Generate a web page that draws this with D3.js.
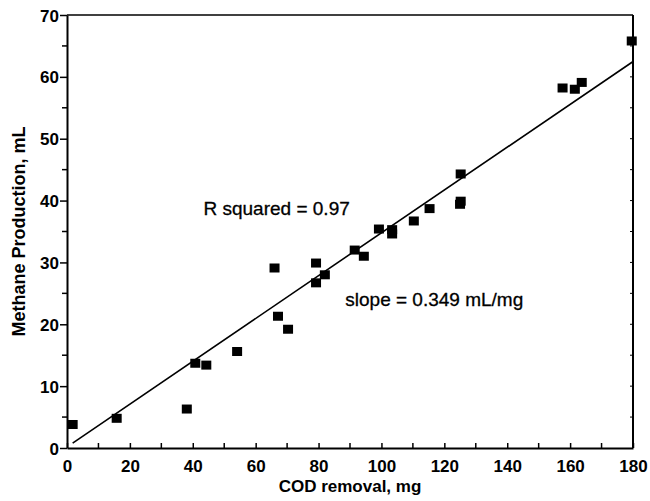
<!DOCTYPE html>
<html>
<head>
    <meta charset="UTF-8">
    <title>Methane vs COD</title>
    <style>
        body { margin: 0; background-color: #FFFFFF; }
        svg { background-color: #FFFFFF; font-family: "Liberation Sans", Arial, sans-serif; }
        .axis path, .axis line { stroke: #000; }
        .axis text { font-size: 17px; font-weight: bold; fill: #000; }
    </style>
</head>
<body>
    <div id="graph-container"></div>
    <script src="https://cdn.jsdelivr.net/npm/d3@7"></script>
    <script>
        // COD removal (mg) vs methane (mL)
        let codRemoval = [1.8, 15.8, 38.1, 40.8, 44.3, 54.1, 66.0, 67.1, 70.3, 79.2, 79.2, 82.0,
                          91.5, 94.4, 99.2, 103.4, 103.4, 110.3, 115.3, 125.0, 125.2, 125.2,
                          157.6, 161.5, 163.7, 179.6];
        let methane = [3.8, 4.8, 6.3, 13.7, 13.4, 15.6, 29.1, 21.3, 19.2, 29.9, 26.7, 28.0,
                       32.0, 31.0, 35.4, 35.3, 34.6, 36.7, 38.7, 39.4, 39.9, 44.3,
                       58.2, 58.0, 59.1, 65.8];
        // regression line end points
        let fitX = [1.8, 179.8];
        let fitY = [0.8, 62.4];
        let xTicks = [0, 20, 40, 60, 80, 100, 120, 140, 160, 180];
        let yTicks = [0, 10, 20, 30, 40, 50, 60, 70];
        let labels = ["R squared = 0.97", "slope = 0.349 mL/mg"];

        let margin = { top: 15, right: 17, bottom: 53, left: 67 },
            width = 650 - margin.left - margin.right,
            height = 501 - margin.top - margin.bottom;

        let x = d3.scaleLinear().domain([0, 180]).range([0, width]);
        let y = d3.scaleLinear().domain([0, 70]).range([height, 0]);

        let svg = d3.select("#graph-container").append("svg")
            .attr("width", 650)
            .attr("height", 501)
            .append("g")
            .attr("transform", "translate(" + margin.left + "," + margin.top + ")");

        // frame
        svg.append("line").attr("x1", 0).attr("x2", width).attr("y1", 0).attr("y2", 0)
            .attr("stroke", "#000").attr("stroke-width", 1.5);
        svg.append("line").attr("x1", width).attr("x2", width).attr("y1", 0).attr("y2", height)
            .attr("stroke", "#000").attr("stroke-width", 2);

        // minor ticks
        let xMinor = d3.range(10, 180, 20);
        let yMinor = d3.range(5, 70, 10);
        svg.selectAll(".xminor").data(xMinor).enter().append("line")
            .attr("x1", d => x(d)).attr("x2", d => x(d))
            .attr("y1", height).attr("y2", height - 5)
            .attr("stroke", "#000").attr("stroke-width", 1.5);
        svg.selectAll(".yminor").data(yMinor).enter().append("line")
            .attr("x1", 0).attr("x2", -5)
            .attr("y1", d => y(d)).attr("y2", d => y(d))
            .attr("stroke", "#000").attr("stroke-width", 1.5);
        svg.selectAll(".rminor").data(d3.range(5, 70, 5)).enter().append("line")
            .attr("x1", width).attr("x2", width - 3)
            .attr("y1", d => y(d)).attr("y2", d => y(d))
            .attr("stroke", "#000").attr("stroke-width", 1);

        // x axis, ticks pointing inward
        let gx = svg.append("g")
            .attr("class", "axis")
            .attr("transform", "translate(0," + height + ")")
            .call(d3.axisBottom(x).tickValues(xTicks).tickSize(-5).tickSizeOuter(0).tickPadding(12));
        gx.select(".domain").attr("stroke-width", 2);
        gx.selectAll(".tick line").attr("stroke-width", 1.5);

        // y axis
        let gy = svg.append("g")
            .attr("class", "axis")
            .call(d3.axisLeft(y).tickValues(yTicks).tickSize(7).tickSizeOuter(0).tickPadding(1));
        gy.select(".domain").attr("stroke-width", 2);
        gy.selectAll(".tick line").attr("stroke-width", 1.5);
        gy.selectAll(".tick text").attr("dy", "0.36em").attr("font-size", "18px");

        // regression line
        svg.append("line")
            .attr("x1", x(fitX[0])).attr("y1", y(fitY[0]))
            .attr("x2", x(fitX[1])).attr("y2", y(fitY[1]))
            .attr("stroke", "#000").attr("stroke-width", 1.6);

        // points
        let pts = codRemoval.map((d, i) => ({ x: d, y: methane[i] }));
        svg.selectAll(".point")
            .data(pts)
            .enter()
            .append("rect")
            .attr("class", "point")
            .attr("x", d => x(d.x) - 5)
            .attr("y", d => y(d.y) - 4.5)
            .attr("width", 10)
            .attr("height", 9)
            .attr("fill", "#000");

        // annotations
        svg.append("text")
            .attr("x", x(43.4)).attr("y", y(37.7))
            .attr("font-size", "19px").attr("stroke", "#000").attr("stroke-width", 0.3)
            .text(labels[0]);
        svg.append("text")
            .attr("x", x(88.5)).attr("y", y(23.0))
            .attr("font-size", "19px").attr("stroke", "#000").attr("stroke-width", 0.3)
            .text(labels[1]);

        // axis titles
        svg.append("text")
            .attr("x", width / 2).attr("y", height + 44)
            .attr("text-anchor", "middle")
            .attr("font-size", "17px").attr("font-weight", "bold")
            .text("COD removal, mg");
        svg.append("text")
            .attr("transform", "rotate(-90)")
            .attr("x", -height / 2).attr("y", -42)
            .attr("text-anchor", "middle")
            .attr("font-size", "18px").attr("font-weight", "bold")
            .text("Methane Production, mL");
    </script>
</body>
</html>
